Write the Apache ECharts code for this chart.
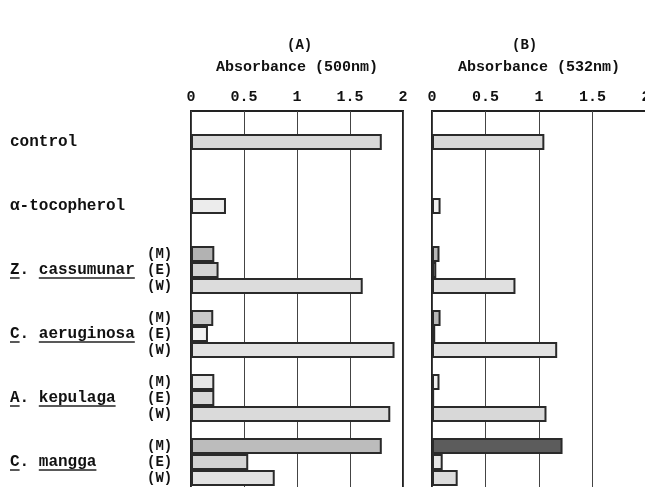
<!DOCTYPE html>
<html>
<head>
<meta charset="utf-8">
<script src="https://cdn.jsdelivr.net/npm/echarts@6/dist/echarts.min.js"></script>
<style>
  html, body { margin: 0; padding: 0; background: #fff; }
  #container { width: 645px; height: 487px; }
</style>
</head>
<body>
<div id="container"></div>
<script>
var dom = document.getElementById('container');
var myChart = echarts.init(dom, null, { renderer: 'canvas' });

// row names, top to bottom
var singles = ['control', 'α-tocopherol'];
var species = ['Z. cassumunar', 'C. aeruginosa', 'A. kepulaga', 'C. mangga'];
var extracts = ['(M)', '(E)', '(W)'];

// absorbance values, same row order (control, tocopherol, then M/E/W per species)
var absA = [1.80, 0.33, 0.22, 0.26, 1.62, 0.21, 0.16, 1.92, 0.22, 0.22, 1.88, 1.80, 0.54, 0.79];
var absB = [1.05, 0.08, 0.07, 0.04, 0.78, 0.08, 0.03, 1.17, 0.07, 0.02, 1.07, 1.22, 0.10, 0.24];

var xTicks = [0, 0.5, 1, 1.5, 2];

// layout: slot of every row on the category axis (empty slots are gaps)
var nSlots = 23;
var rowSlot = [1, 5, 8, 9, 10, 12, 13, 14, 16, 17, 18, 20, 21, 22];

// bar fills (grey stipple shades from the scan)
var fillA = ['#d9d9d9', '#ececec', '#b2b2b2', '#d4d4d4', '#dcdcdc', '#c9c9c9', '#f2f2f2', '#e2e2e2',
             '#e6e6e6', '#d8d8d8', '#dadada', '#bcbcbc', '#d2d2d2', '#e2e2e2'];
var fillB = ['#d8d8d8', '#f0f0f0', '#b8b8b8', '#cccccc', '#e0e0e0', '#b8b8b8', '#cccccc', '#e2e2e2',
             '#f0f0f0', '#dddddd', '#d8d8d8', '#5c5c5c', '#e6e6e6', '#dcdcdc'];

var FONT = '"Liberation Mono", "DejaVu Sans Mono", monospace';
var FS = 16;

// build slot labels
var slotLabel = [];
for (var i = 0; i < nSlots; i++) slotLabel.push('');
singles.forEach(function (s, k) {
    slotLabel[rowSlot[k]] = '{n|' + s + '}';
});
species.forEach(function (sp, k) {
    extracts.forEach(function (ex, j) {
        var r = singles.length + k * 3 + j;
        slotLabel[rowSlot[r]] = '{n|' + (j == 1 ? sp : '') + '}{t|' + ex + '}';
    });
});

function slotData(vals, fills) {
    var d = [];
    for (var i = 0; i < nSlots; i++) d.push('-');
    vals.forEach(function (v, r) {
        d[rowSlot[r]] = { value: v, itemStyle: { color: fills[r] } };
    });
    return d;
}

var cats = [];
for (var i = 0; i < nSlots; i++) cats.push(String(i));

// panel B is cut off at the right edge in the scan
var panels = [
    { left: 191, width: 212, name: 'Absorbance (500nm)' },
    { left: 432, width: 214, name: 'Absorbance (532nm)' }
];

var grids = [], xAxes = [], yAxes = [], series = [];
panels.forEach(function (p, k) {
    // frame grid with ticks and grid lines
    grids.push({ left: p.left, width: p.width, top: 111, height: 420, show: true,
                 borderColor: '#222', borderWidth: 2, outerBoundsMode: 'none' });
    xAxes.push({
        gridIndex: grids.length - 1, type: 'value', position: 'top', min: 0, max: 2, interval: 0.5,
        name: p.name, nameLocation: 'middle', nameGap: 36,
        nameTextStyle: { fontFamily: FONT, fontWeight: 'bold', fontSize: FS - 1, color: '#111' },
        axisLine: { show: true, lineStyle: { color: '#222', width: 2 } },
        axisTick: { show: false },
        axisLabel: { margin: 6, fontFamily: FONT, fontWeight: 'bold', fontSize: FS - 1, color: '#111',
                     hideOverlap: false,
                     formatter: function (v) { return xTicks.indexOf(v) >= 0 ? String(v) : ''; } },
        splitLine: { show: true, lineStyle: { color: '#444', width: 1 } }
    });
    yAxes.push({ gridIndex: grids.length - 1, type: 'value', show: false });

    // bars grid
    grids.push({ left: p.left, width: p.width, top: 118, height: nSlots * 16, outerBoundsMode: 'none' });
    xAxes.push({ gridIndex: grids.length - 1, type: 'value', min: 0, max: 2, show: false });
    yAxes.push({
        gridIndex: grids.length - 1, type: 'category', data: cats, inverse: true,
        axisLine: { show: false }, axisTick: { show: false }, splitLine: { show: false },
        axisLabel: k == 0 ? {
            show: true, interval: 0, align: 'left', margin: 181,
            formatter: function (v, idx) { return slotLabel[idx]; },
            rich: {
                n: { width: 137, fontFamily: FONT, fontWeight: 'bold', fontSize: FS, color: '#111' },
                t: { fontFamily: FONT, fontWeight: 'bold', fontSize: FS - 2, color: '#111' }
            }
        } : { show: false }
    });
    series.push({
        type: 'bar', xAxisIndex: xAxes.length - 1, yAxisIndex: yAxes.length - 1,
        barWidth: 16, barGap: '0%', barCategoryGap: '0%',
        itemStyle: { borderColor: '#2a2a2a', borderWidth: 2 },
        data: slotData(k == 0 ? absA : absB, k == 0 ? fillA : fillB)
    });
});

option = {
    backgroundColor: '#fff',
    animation: false,
    grid: grids,
    xAxis: xAxes,
    yAxis: yAxes,
    series: series,
    graphic: [
        { type: 'text', left: 287, top: 38, style: { text: '(A)', font: 'bold 14px ' + FONT, fill: '#111' } },
        { type: 'text', left: 512, top: 38, style: { text: '(B)', font: 'bold 14px ' + FONT, fill: '#111' } }
    ]
};
myChart.setOption(option);

// underline the genus initial and the species epithet
var ctx = document.createElement('canvas').getContext('2d');
ctx.font = 'bold ' + FS + 'px ' + FONT;
var lines = [];
species.forEach(function (sp, k) {
    var r = singles.length + k * 3 + 1;
    var y = myChart.convertToPixel({ yAxisIndex: 1 }, String(rowSlot[r])) + 8;
    var parts = sp.split('. ');
    var x0 = 10;
    var wInit = ctx.measureText(parts[0]).width;
    var wLead = ctx.measureText(parts[0] + '. ').width;
    var wAll = ctx.measureText(sp).width;
    lines.push({ type: 'line', shape: { x1: x0, y1: y, x2: x0 + wInit, y2: y }, style: { stroke: '#222', lineWidth: 1.5 } });
    lines.push({ type: 'line', shape: { x1: x0 + wLead, y1: y, x2: x0 + wAll, y2: y }, style: { stroke: '#222', lineWidth: 1.5 } });
});
myChart.setOption({ graphic: option.graphic.concat(lines) });
</script>
</body>
</html>
